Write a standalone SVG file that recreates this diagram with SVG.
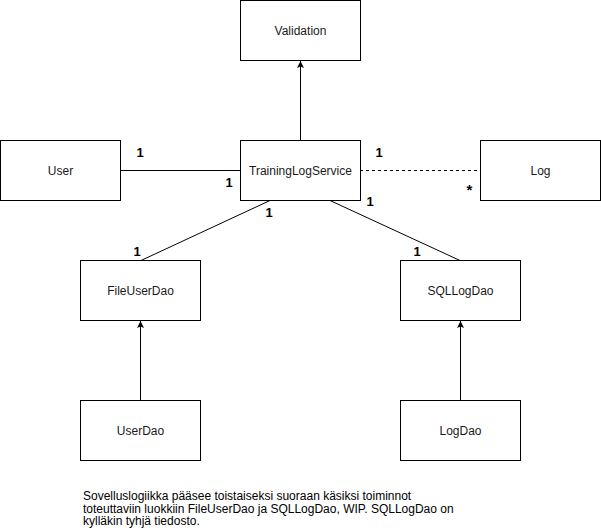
<svg xmlns="http://www.w3.org/2000/svg" width="601" height="531" viewBox="0 0 601 531">
<style>
.box{fill:#fff;stroke:#000;stroke-width:1}
.lbl{font-family:"Liberation Sans",Arial,sans-serif;font-size:12px;fill:#1a1a1a;text-anchor:middle}
.mul{font-family:"Liberation Sans",Arial,sans-serif;font-size:13px;font-weight:bold;fill:#000;text-anchor:middle}
.ln{fill:none;stroke:#000;stroke-width:1}
.note{font-family:"Liberation Sans",Arial,sans-serif;font-size:12px;fill:#000}
</style>
<defs>
<marker id="arr" viewBox="0 0 10 10" refX="10" refY="5" markerWidth="8" markerHeight="7" orient="auto" markerUnits="userSpaceOnUse">
<path d="M10,5 L0,0 L2,5 L0,10 Z" fill="#000"/>
</marker>
</defs>
<rect width="601" height="531" fill="#fff"/>
<g id="connectors">
<line class="ln" x1="300.5" y1="140" x2="300.5" y2="61" marker-end="url(#arr)"/>
<line class="ln" x1="120" y1="170.5" x2="240" y2="170.5"/>
<line class="ln" x1="360" y1="170.5" x2="480" y2="170.5" stroke-dasharray="3 3"/>
<line class="ln" x1="270" y1="200.5" x2="141" y2="260.5"/>
<line class="ln" x1="330" y1="200.5" x2="460" y2="260.5"/>
<line class="ln" x1="140.5" y1="400" x2="140.5" y2="321" marker-end="url(#arr)"/>
<line class="ln" x1="460.5" y1="400" x2="460.5" y2="321" marker-end="url(#arr)"/>
<text class="mul" x="140" y="157">1</text>
<text class="mul" x="229" y="187">1</text>
<text class="mul" x="379" y="157">1</text>
<text class="mul" x="469.5" y="195" style="font-size:15px">*</text>
<text class="mul" x="370" y="206">1</text>
<text class="mul" x="269" y="217">1</text>
<text class="mul" x="137" y="256">1</text>
<text class="mul" x="417" y="256">1</text>
</g>
<g id="validation"><rect class="box" x="240.5" y="0.5" width="120" height="60"/><text class="lbl" x="300.5" y="35">Validation</text></g>
<g id="user"><rect class="box" x="0.5" y="140.5" width="120" height="60"/><text class="lbl" x="60.5" y="175">User</text></g>
<g id="service"><rect class="box" x="240.5" y="140.5" width="120" height="60"/><text class="lbl" x="300.5" y="175">TrainingLogService</text></g>
<g id="log"><rect class="box" x="480.5" y="140.5" width="120" height="60"/><text class="lbl" x="540.5" y="175">Log</text></g>
<g id="fileuserdao"><rect class="box" x="80.5" y="260.5" width="120" height="60"/><text class="lbl" x="140.5" y="295">FileUserDao</text></g>
<g id="sqllogdao"><rect class="box" x="400.5" y="260.5" width="120" height="60"/><text class="lbl" x="460.5" y="295">SQLLogDao</text></g>
<g id="userdao"><rect class="box" x="80.5" y="400.5" width="120" height="60"/><text class="lbl" x="140.5" y="435">UserDao</text></g>
<g id="logdao"><rect class="box" x="400.5" y="400.5" width="120" height="60"/><text class="lbl" x="460.5" y="435">LogDao</text></g>
<g id="note">
<text class="note" x="83" y="500"><tspan x="83" y="500">Sovelluslogiikka pääsee toistaiseksi suoraan käsiksi toiminnot</tspan><tspan x="83" y="512.5">toteuttaviin luokkiin FileUserDao ja SQLLogDao, WIP. SQLLogDao on</tspan><tspan x="83" y="525">kylläkin tyhjä tiedosto.</tspan></text>
</g>
</svg>
